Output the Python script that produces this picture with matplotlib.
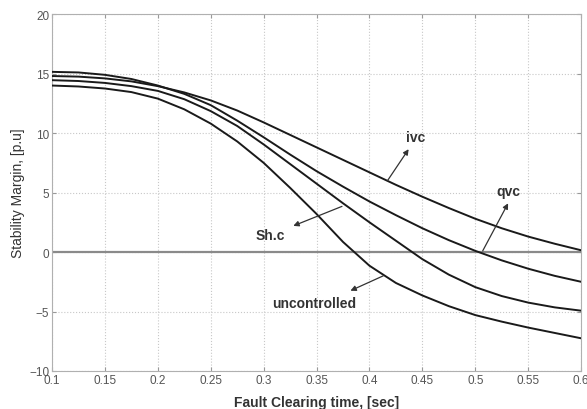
import matplotlib
matplotlib.use("Agg")
import matplotlib.pyplot as plt

plt.rcParams['font.family'] = ['Liberation Sans', 'DejaVu Sans']

t = [0.1, 0.125, 0.15, 0.175, 0.2, 0.225, 0.25, 0.275, 0.3, 0.325, 0.35,
     0.375, 0.4, 0.425, 0.45, 0.475, 0.5, 0.525, 0.55, 0.575, 0.6]
ivc = [14.8, 14.75, 14.6, 14.35, 13.95, 13.42, 12.75, 11.9, 10.9, 9.85, 8.8,
       7.75, 6.7, 5.65, 4.65, 3.7, 2.8, 2.0, 1.3, 0.7, 0.15]
qvc = [15.15, 15.1, 14.9, 14.55, 14.0, 13.3, 12.35, 11.05, 9.65, 8.2, 6.8,
       5.5, 4.25, 3.1, 2.0, 1.0, 0.1, -0.7, -1.4, -2.0, -2.5]
shc = [14.45, 14.38, 14.22, 13.95, 13.55, 12.85, 11.85, 10.6, 9.05, 7.4, 5.75,
       4.1, 2.5, 0.95, -0.6, -1.9, -2.95, -3.7, -4.25, -4.65, -4.93]
unc = [14.0, 13.92, 13.75, 13.45, 12.9, 12.0, 10.8, 9.3, 7.5, 5.4, 3.2,
       0.85, -1.15, -2.6, -3.65, -4.55, -5.3, -5.85, -6.35, -6.8, -7.25]

xticks = [0.1, 0.15, 0.2, 0.25, 0.3, 0.35, 0.4, 0.45, 0.5, 0.55, 0.6]
xticklabels = ['0.1', '0.15', '0.2', '0.25', '0.3', '0.35', '0.4', '0.45', '0.5', '0.55', '0.6']
yticks = [-10, -5, 0, 5, 10, 15, 20]

fig = plt.figure(figsize=(5.87, 4.10), dpi=100)
ax = fig.add_axes([0.0886, 0.0927, 0.9014, 0.8703])

ax.axhline(0, color='#8a8a8a', lw=1.6, zorder=2)
for s in (ivc, qvc, shc, unc):
    ax.plot(t, s, color='#1a1a1a', lw=1.4, zorder=3, solid_joinstyle='round')

ax.set_xlim(0.1, 0.6)
ax.set_ylim(-10, 20)
ax.set_xticks(xticks)
ax.set_xticklabels(xticklabels)
ax.set_yticks(yticks)
ax.grid(True, color='#c8c8c8', ls=':', lw=0.8)
ax.tick_params(direction='in', top=True, right=True, length=3, color='#999999',
               labelsize=8.5, labelcolor='#555555', pad=2)
for sp in ax.spines.values():
    sp.set_color('#b0b0b0')
    sp.set_linewidth(0.8)

ax.set_xlabel('Fault Clearing time, [sec]', fontsize=10, color='#333333', fontweight='bold', labelpad=7)
ax.set_ylabel('Stability Margin, [p.u]', fontsize=10, color='#333333', labelpad=3)

ap = dict(arrowstyle='-|>', lw=0.9, color='#333333', mutation_scale=8, shrinkA=0, shrinkB=0)
tk = dict(fontsize=10, fontweight='bold', color='#333333', ha='center', va='center')
ax.annotate('', xy=(0.437, 8.65), xytext=(0.417, 6.0), arrowprops=ap)
ax.text(0.444, 9.7, 'ivc', **tk)
ax.annotate('', xy=(0.531, 4.1), xytext=(0.507, 0.1), arrowprops=ap)
ax.text(0.531, 5.1, 'qvc', **tk)
ax.annotate('', xy=(0.328, 2.2), xytext=(0.374, 3.84), arrowprops=ap)
ax.text(0.306, 1.4, 'Sh.c', **tk)
ax.annotate('', xy=(0.382, -3.25), xytext=(0.413, -2.0), arrowprops=ap)
ax.text(0.348, -4.3, 'uncontrolled', **tk)

fig.savefig('out.png', dpi=100)
